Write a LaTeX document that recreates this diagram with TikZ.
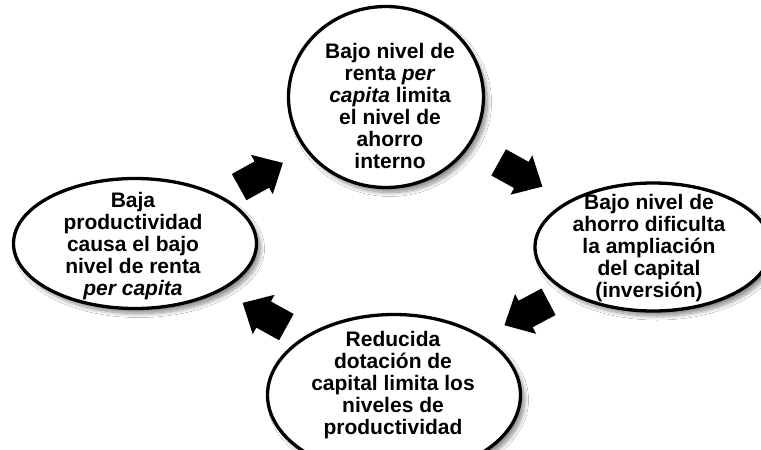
\documentclass[tikz,border=0pt]{standalone}
\usepackage{fontspec}
\setmainfont{Liberation Sans}
\usetikzlibrary{shapes.geometric,shadows.blur}
\begin{document}
\begin{tikzpicture}[x=1pt,y=-1pt,
  oval/.style={ellipse, draw=black, line width=3.3pt, fill=white, inner sep=0pt,
    blur shadow={shadow xshift=4pt, shadow yshift=-5pt, shadow blur steps=10,
      shadow blur radius=4pt, shadow opacity=45}},
  txt/.style={align=center, font=\bfseries\fontsize{21}{22}\selectfont, inner sep=0pt},
  bigarrow/.pic={\fill[black] (-25,-15) -- (1,-15) -- (1,-22.5) -- (25,0) -- (1,22.5) -- (1,15) -- (-25,15) -- cycle;}]
\useasboundingbox (0,0) rectangle (761,450);
\clip (0,0) rectangle (761,450);
\fill[white] (0,0) rectangle (761,450);

% ellipses
\node[oval, minimum width=195pt, minimum height=181pt] (top) at (386,97) {};
\node[oval, minimum width=236pt, minimum height=128pt] (right) at (653,247) {};
\node[oval, minimum width=243pt, minimum height=130pt] (left) at (135,243.5) {};
\node[oval, minimum width=253pt, minimum height=161pt] (bottom) at (394,395) {};

% texts
\node[txt] (toptxt) at (390,106) {Bajo nivel de\\renta \textit{per}\\\textit{capita} limita\\el nivel de\\ahorro\\interno};
\node[txt] (righttxt) at (649,248) {Bajo nivel de\\ahorro dificulta\\la ampliación\\del capital\\(inversión)};
\node[txt] (lefttxt) at (133,246) {Baja\\productividad\\causa el bajo\\nivel de renta\\\textit{per capita}};
\node[txt] (bottomtxt) at (393,385) {Reducida\\dotación de\\capital limita los\\niveles de\\productividad};

% block arrows
\pic[rotate=29] at (261,175) {bigarrow};
\pic[rotate=-29] at (520.5,174.5) {bigarrow};
\pic[rotate=208] at (526.5,313.5) {bigarrow};
\pic[rotate=151] at (264.5,315) {bigarrow};
\end{tikzpicture}
\end{document}
